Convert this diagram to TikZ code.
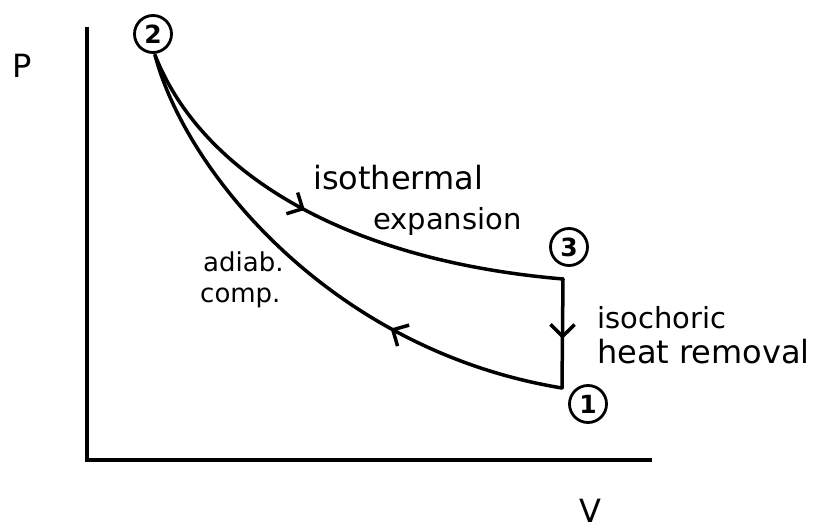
\documentclass[tikz,border=0pt]{standalone}
\usepackage{fontspec}
\setsansfont{DejaVu Sans}
\usetikzlibrary{arrows.meta,decorations.markings}
\begin{document}
\begin{tikzpicture}[x=1pt,y=-1pt,
  curve/.style={line width=3.5pt, line cap=round},
  axis/.style={line width=4pt},
  state/.style={circle, draw, line width=2.8pt, inner sep=0pt, minimum size=37pt, font=\sffamily\bfseries\fontsize{25}{27}\selectfont},
  lbl/.style={font=\sffamily\fontsize{32}{34}\selectfont, align=left, inner sep=0pt},
  mid/.style={font=\sffamily\fontsize{29}{31}\selectfont, align=left, inner sep=0pt},
  small/.style={font=\sffamily\fontsize{26}{28}\selectfont, align=left, inner sep=0pt},
  barb/.style={decoration={markings, mark=at position #1 with {\arrow{Straight Barb[length=12pt,width=24pt,line width=3.5pt]}}}, postaction={decorate}}
]
\useasboundingbox (0,0) rectangle (823,529);
% axes
\coordinate (O) at (87,460);
\coordinate (Ytop) at (87,27);
\coordinate (Xend) at (652,460);
\draw[axis] (Ytop) -- (O) -- (Xend);
\node[lbl] (P) at (22,66) {P};
\node[lbl] (V) at (590,511) {V};
% cycle corners
\coordinate (p2) at (155,55);
\coordinate (p3) at (563,279);
\coordinate (p1) at (562,388);
\node[state] (s2) at (153,34) {2};
\node[state] (s3) at (569,247) {3};
\node[state] (s1) at (588,404) {1};
% processes
\draw[curve, barb=0.45] (p2) .. controls (200,170) and (340,260) .. (p3);
\draw[curve, barb=0.55] (p3) -- (p1);
\draw[curve, barb=0.33] (p1) .. controls (330,350) and (185,170) .. (p2);
% labels
\node[lbl, anchor=west] (iso) at (313,178) {isothermal};
\node[mid, anchor=west] (exp) at (373,222) {expansion};
\node[small, anchor=west] (ad) at (203,262) {adiab.};
\node[small, anchor=west] (cp) at (200,298) {comp.};
\node[mid, anchor=west] (ic) at (597,318) {isochoric};
\node[lbl, anchor=west] (hr) at (597,352) {heat removal};
\end{tikzpicture}
\end{document}
